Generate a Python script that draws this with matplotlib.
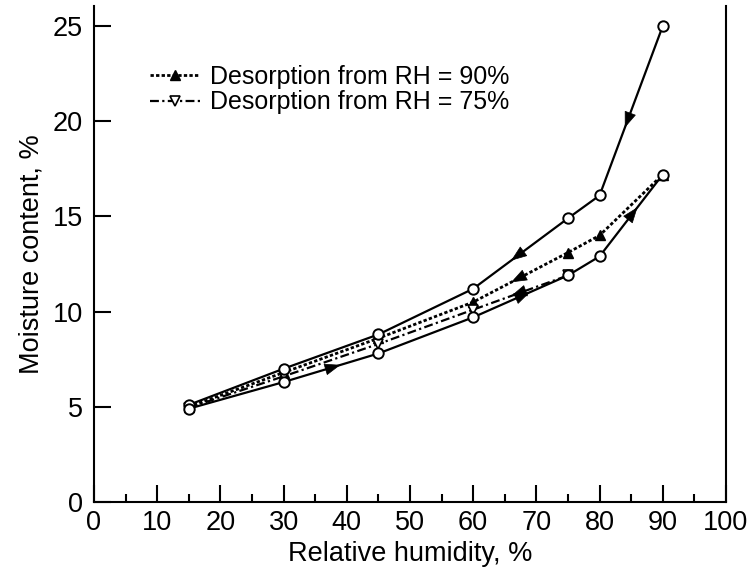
import matplotlib
matplotlib.use("Agg")
import matplotlib.pyplot as plt
from matplotlib.ticker import MultipleLocator

plt.rcParams['font.family'] = ['Liberation Sans', 'DejaVu Sans']

# relative humidity (%) for each series
rh_full = [15, 30, 45, 60, 75, 80, 90]
rh_75 = [15, 30, 45, 60, 75]

# moisture content (%)
mc_desorb_sat = [5.1, 7.0, 8.8, 11.2, 14.9, 16.1, 25.0]   # upper solid curve
mc_adsorb = [4.9, 6.3, 7.8, 9.7, 11.9, 12.9, 17.2]        # lower solid curve
mc_desorb_90 = [5.0, 6.8, 8.6, 10.5, 13.1, 14.0, 17.2]
mc_desorb_75 = [4.95, 6.6, 8.3, 10.1, 11.9]

LEGEND_90 = 'Desorption from RH = 90%'
LEGEND_75 = 'Desorption from RH = 75%'
XLABEL = 'Relative humidity, %'
YLABEL = 'Moisture content, %'

FS = 19.5
FS_LEG = 18


def arrow_on(ax, xs, ys, seg, forward=True, frac=0.6):
    # arrowhead in the middle of segment seg (from point seg to seg + 1)
    x0, y0, x1, y1 = xs[seg], ys[seg], xs[seg + 1], ys[seg + 1]
    if not forward:
        x0, y0, x1, y1 = x1, y1, x0, y0
    tip = (x0 + (x1 - x0) * frac, y0 + (y1 - y0) * frac)
    tail = (x0 + (x1 - x0) * (frac - 0.05), y0 + (y1 - y0) * (frac - 0.05))
    ax.annotate('', xy=tip, xytext=tail,
                arrowprops=dict(arrowstyle='-|>,head_length=0.8,head_width=0.3',
                                color='black', lw=0.5, mutation_scale=13,
                                shrinkA=0, shrinkB=0))


fig = plt.figure(figsize=(7.53, 5.73), dpi=100)
ax = fig.add_axes([0.1248, 0.1239, 0.9641 - 0.1248, 0.9895 - 0.1239])

ax.plot(rh_full, mc_desorb_sat, '-', color='black', lw=1.6,
        marker='o', ms=7.5, mfc='white', mec='black', mew=1.4, zorder=3)
ax.plot(rh_full, mc_adsorb, '-', color='black', lw=1.6,
        marker='o', ms=7.5, mfc='white', mec='black', mew=1.4, zorder=3)
ax.plot(rh_full, mc_desorb_90, linestyle=(0, (1.2, 0.8)), color='black', lw=2.0,
        marker='^', ms=6.5, mfc='black', mec='black', label=LEGEND_90, zorder=2)
ax.plot(rh_75, mc_desorb_75, linestyle=(0, (4, 1.5, 1, 1.5)), color='black', lw=1.6,
        marker='v', ms=6.5, mfc='white', mec='black', mew=1.2, label=LEGEND_75, zorder=2)

# direction arrows
arrow_on(ax, rh_full, mc_desorb_sat, 5, forward=False)
arrow_on(ax, rh_full, mc_desorb_sat, 3, forward=False)
arrow_on(ax, rh_full, mc_adsorb, 5, forward=True)
arrow_on(ax, rh_full, mc_adsorb, 3, forward=True)
arrow_on(ax, rh_full, mc_adsorb, 1, forward=True)
arrow_on(ax, rh_full, mc_desorb_90, 3, forward=False)
arrow_on(ax, rh_75, mc_desorb_75, 3, forward=False)

ax.set_xlim(0, 100)
ax.set_ylim(0, 26.05)
ax.xaxis.set_major_locator(MultipleLocator(10))
ax.xaxis.set_minor_locator(MultipleLocator(5))
ax.yaxis.set_major_locator(MultipleLocator(5))

ax.spines['top'].set_visible(False)
for s in ('left', 'right', 'bottom'):
    ax.spines[s].set_linewidth(1.5)

ax.tick_params(axis='x', which='major', direction='in', length=12, width=1.5,
               labelsize=FS, pad=6)
ax.tick_params(axis='x', which='minor', direction='in', length=6, width=1.5)
ax.tick_params(axis='y', which='major', direction='in', length=12, width=1.5,
               labelsize=FS, pad=8, right=False)

ax.set_xlabel(XLABEL, fontsize=FS, labelpad=3)
ax.set_ylabel(YLABEL, fontsize=FS, labelpad=6)

fig.legend(loc='upper left', bbox_to_anchor=(150 / 753, 1 - 65 / 573),
           frameon=False, fontsize=FS_LEG, handlelength=2.0, handletextpad=0.4,
           labelspacing=0.05, borderpad=0, borderaxespad=0)

fig.savefig('out.png', dpi=100)
